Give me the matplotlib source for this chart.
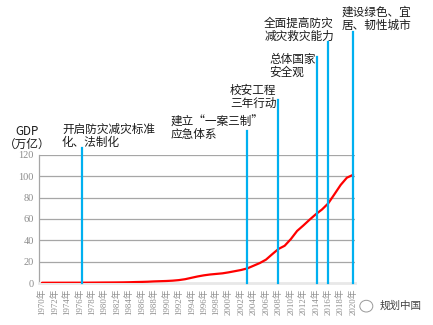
import matplotlib.pyplot as plt
from matplotlib.patches import Ellipse

plt.rcParams['font.family'] = ['Noto Sans CJK SC', 'DejaVu Sans']

# GDP（万亿元），1970-2020
years = list(range(1970, 2021))
gdp = [0.23, 0.25, 0.26, 0.27, 0.28, 0.30, 0.30, 0.32, 0.37, 0.41,
       0.46, 0.49, 0.54, 0.60, 0.72, 0.90, 1.03, 1.21, 1.51, 1.70,
       1.89, 2.20, 2.72, 3.57, 4.86, 6.13, 7.18, 7.97, 8.52, 9.06,
       10.0, 11.1, 12.2, 13.7, 16.2, 18.7, 21.9, 27.0, 31.9, 34.9,
       41.2, 48.8, 53.9, 59.3, 64.4, 68.9, 74.6, 83.2, 91.9, 98.7,
       101.4]

# 政策节点：年份、竖线顶端（纵轴单位）、两行说明
event_years = [1976.4, 2002.9, 2007.9, 2014.2, 2016.0, 2020.0]
event_tops = [126.6, 142.8, 171.6, 211.9, 226.0, 235.3]
event_text = [
    ['开启防灾减灾标准', '化、法制化'],
    ['建立\u201c一案三制\u201d', '应急体系'],
    ['校安工程', '三年行动'],
    ['总体国家', '安全观'],
    ['全面提高防灾', '减灾救灾能力'],
    ['建设绿色、宜', '居、韧性城市'],
]
# 说明文字左端（年份）和第一行中心（纵轴单位）
text_x = [1973.2, 1990.6, 2000.2, 2006.5, 2005.7, 2018.2]
text_y = [143.9, 150.6, 180.1, 209.3, 243.1, 253.4]

yticks = [0, 20, 40, 60, 80, 100, 120]
xticks = list(range(1970, 2021, 2))
xticklabels = [f'{y}年' for y in xticks]

fig = plt.figure(figsize=(4.33, 3.25), dpi=100)
ax = fig.add_axes([0.0908, 0.1292, 0.729, 0.394])

ax.set_xlim(1969.57, 2020.3)
ax.set_ylim(0, 120)

for y in yticks[1:]:
    ax.axhline(y, color='#a6a6a6', lw=0.9, zorder=1)

ax.plot(years, gdp, color='#ff0000', lw=1.6, zorder=3, solid_capstyle='round')

for x, top in zip(event_years, event_tops):
    ax.plot([x, x], [0, top], color='#00b0f0', lw=1.6, zorder=4, clip_on=False)

lh = 12.6 / 1.0667  # 行距（纵轴单位）
for (l1, l2), x, y in zip(event_text, text_x, text_y):
    ax.text(x, y, l1, fontsize=8.4, color='#1a1a1a', ha='left', va='center',
            clip_on=False)
    ax.text(x, y - lh, l2, fontsize=8.4, color='#1a1a1a', ha='left', va='center',
            clip_on=False)

# 纵轴标题
ax.text(1967.6, 141.9, 'GDP', fontsize=8.4, color='#1a1a1a', ha='center',
        va='center', clip_on=False)
ax.text(1967.6, 130.2, '（万亿）', fontsize=8.4, color='#1a1a1a', ha='center',
        va='center', clip_on=False)

for s in ['top', 'right']:
    ax.spines[s].set_visible(False)
ax.spines['left'].set_color('#a6a6a6')
ax.spines['left'].set_linewidth(0.9)
ax.spines['bottom'].set_color('#e8e8e8')
ax.spines['bottom'].set_linewidth(2)

ax.set_yticks(yticks)
ax.set_yticklabels([str(v) for v in yticks], family=['Liberation Serif', 'Noto Sans CJK SC'],
                   fontsize=7.5, color='#8c8c8c')
ax.set_xticks(xticks)
ax.set_xticklabels(xticklabels, rotation=90, family=['Liberation Serif', 'Noto Sans CJK SC'],
                   fontsize=6.3, color='#8c8c8c')
ax.tick_params(length=0, pad=4)

# 水印
fig.text(0.877, 0.060, '规划中国', fontsize=7.6, color='#444444', ha='left', va='center')
fig.patches.append(Ellipse((0.846, 0.058), 0.030, 0.036, transform=fig.transFigure,
                           fill=False, ec='#999999', lw=0.7))

plt.savefig('out.png', dpi=100)
